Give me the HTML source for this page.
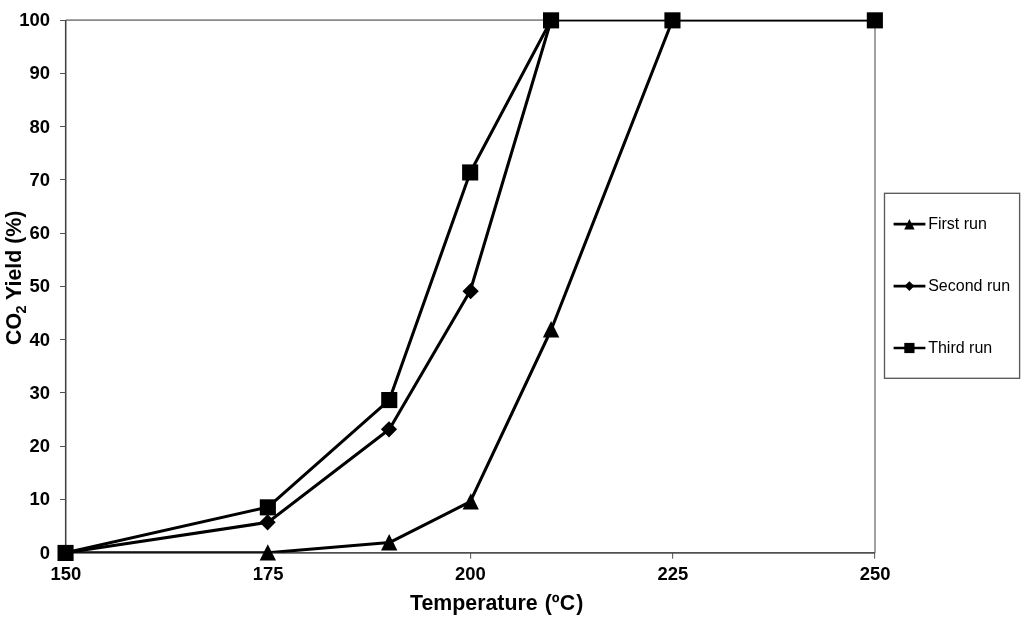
<!DOCTYPE html>
<html><head><meta charset="utf-8"><title>CO2 Yield vs Temperature</title>
<style>
html,body{margin:0;padding:0;background:#fff;}
body{width:1024px;height:621px;overflow:hidden;}
svg{display:block;}
text{font-family:"Liberation Sans",sans-serif;fill:#000;}
.tick{font-weight:bold;font-size:18.45px;}
.title{font-weight:bold;font-size:21.33px;}
.leg{font-size:16px;}
</style></head><body>
<svg width="1024" height="621" viewBox="0 0 1024 621">
<rect width="1024" height="621" fill="#fff"/>
<path d="M65.7,20.1 H875.0 V552.7" fill="none" stroke="#8a8a8a" stroke-width="1.6"/>
<path d="M65.7,552.85 H875.0" fill="none" stroke="#505050" stroke-width="1.7"/>
<path d="M65.7,20.1 V553.7" fill="none" stroke="#404040" stroke-width="1.55"/>
<path d="M60.0,552.5 H65.7 M60.0,499.5 H65.7 M60.0,446.5 H65.7 M60.0,392.5 H65.7 M60.0,339.5 H65.7 M60.0,286.5 H65.7 M60.0,233.5 H65.7 M60.0,179.5 H65.7 M60.0,126.5 H65.7 M60.0,73.5 H65.7 M60.0,20.5 H65.7 M65.65,552.7 V558.7 M267.65,552.7 V558.7 M470.65,552.7 V558.7 M672.65,552.7 V558.7 M874.65,552.7 V558.7" fill="none" stroke="#505050" stroke-width="1"/>
<text class="tick" x="49.9" y="559" text-anchor="end">0</text>
<text class="tick" x="49.9" y="505" text-anchor="end">10</text>
<text class="tick" x="49.9" y="452" text-anchor="end">20</text>
<text class="tick" x="49.9" y="399" text-anchor="end">30</text>
<text class="tick" x="49.9" y="346" text-anchor="end">40</text>
<text class="tick" x="49.9" y="292" text-anchor="end">50</text>
<text class="tick" x="49.9" y="239" text-anchor="end">60</text>
<text class="tick" x="49.9" y="186" text-anchor="end">70</text>
<text class="tick" x="49.9" y="133" text-anchor="end">80</text>
<text class="tick" x="49.9" y="79" text-anchor="end">90</text>
<text class="tick" x="49.9" y="26" text-anchor="end">100</text>
<text class="tick" x="65.9" y="580" text-anchor="middle">150</text>
<text class="tick" x="268.2" y="580" text-anchor="middle">175</text>
<text class="tick" x="470.5" y="580" text-anchor="middle">200</text>
<text class="tick" x="672.9" y="580" text-anchor="middle">225</text>
<text class="tick" x="875.2" y="580" text-anchor="middle">250</text>
<defs><clipPath id="plotclip"><rect x="63.7" y="19.90" width="813.3" height="532.80"/></clipPath></defs>
<g clip-path="url(#plotclip)">
<polyline points="65.7,552.7 268.0,552.7 389.4,542.6 470.3,501.7 551.3,329.5 672.7,19.8 875.0,19.8" fill="none" stroke="#000" stroke-width="3.05" stroke-linejoin="round"/>
<polyline points="65.7,552.7 268.0,522.3 389.4,429.3 470.3,290.7 551.3,19.8 672.7,19.8 875.0,19.8" fill="none" stroke="#000" stroke-width="3.05" stroke-linejoin="round"/>
<polyline points="65.7,552.7 268.0,507.1 389.4,399.8 470.3,172.2 551.3,19.8 672.7,19.8 875.0,19.8" fill="none" stroke="#000" stroke-width="3.05" stroke-linejoin="round"/>
</g>
<g fill="#000"><polygon points="267.8,544.2 276.0,560.6 259.6,560.6"/><polygon points="389.2,534.1 397.4,550.5 381.0,550.5"/><polygon points="470.8,493.2 478.9,509.6 462.6,509.6"/><polygon points="551.1,321.0 559.3,337.4 542.9,337.4"/></g>
<g fill="#000"><polygon points="267.6,514.2 275.7,522.3 267.6,530.4 259.5,522.3"/><polygon points="389.0,421.2 397.1,429.3 389.0,437.4 380.9,429.3"/><polygon points="470.6,283.1 478.8,291.2 470.6,299.3 462.5,291.2"/></g>
<g fill="#000"><rect x="57.5" y="544.9" width="16.1" height="16.1"/><rect x="259.8" y="499.3" width="16.1" height="16.1"/><rect x="381.2" y="392.0" width="16.1" height="16.1"/><rect x="462.1" y="164.4" width="16.1" height="16.1"/><rect x="543.0" y="12.3" width="16.1" height="16.1"/><rect x="664.4" y="12.3" width="16.1" height="16.1"/><rect x="866.8" y="12.3" width="16.1" height="16.1"/></g>
<text class="title" x="410" y="609.7">Temperature<tspan dx="1.1"> (</tspan>º<tspan dx="0.3">C</tspan><tspan dx="1.0">)</tspan></text>
<text class="title" transform="translate(21.1,344.9) rotate(-90) scale(1,1.06)">CO<tspan font-size="14.5" dy="4.3" dx="-0.6">2</tspan><tspan dy="-4.3"> Yield (%)</tspan></text>
<rect x="884.5" y="193.3" width="135.1" height="185" fill="#fff" stroke="#5a5a5a" stroke-width="1.35"/>
<path d="M893.6,224.2 H925.4" stroke="#000" stroke-width="2.7" fill="none"/>
<g fill="#000"><polygon points="909.4,219.0 914.6,229.4 904.2,229.4"/></g>
<text class="leg" x="928.2" y="229.2">First run</text>
<path d="M893.6,286.1 H925.4" stroke="#000" stroke-width="2.7" fill="none"/>
<g fill="#000"><polygon points="909.4,281.2 914.3,286.1 909.4,291.0 904.5,286.1"/></g>
<text class="leg" x="928.2" y="291.1">Second run</text>
<path d="M893.6,348.0 H925.4" stroke="#000" stroke-width="2.7" fill="none"/>
<g fill="#000"><rect x="904.3" y="342.9" width="10.2" height="10.2"/></g>
<text class="leg" x="928.2" y="353.0">Third run</text>
</svg></body></html>
